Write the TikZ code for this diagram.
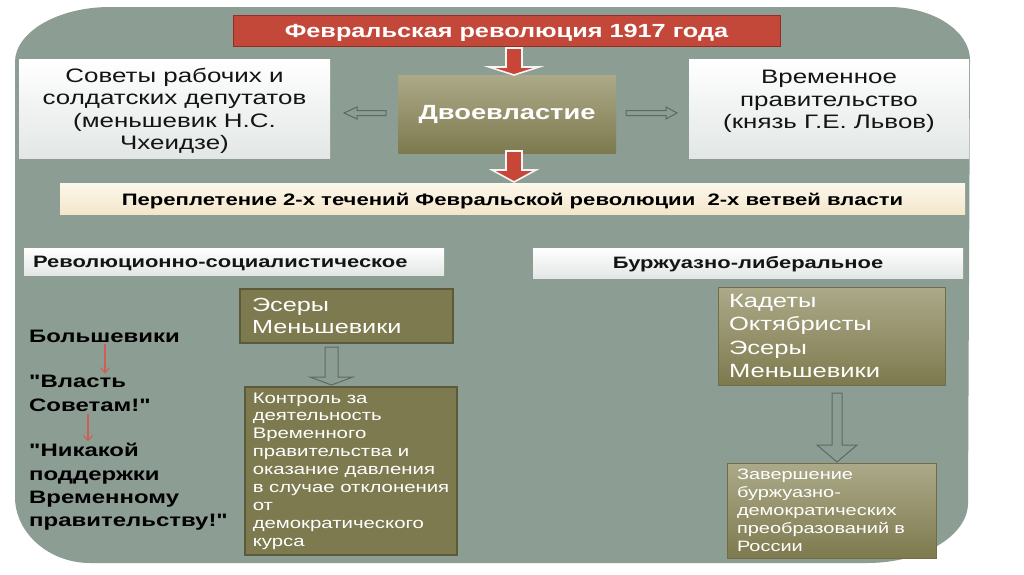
\documentclass[tikz,border=0pt]{standalone}
\usepackage{fontspec}
\setmainfont{Liberation Sans}
\newfontfamily\stf{Liberation Sans}[FakeStretch=1.33]
\usetikzlibrary{calc,arrows.meta}
\definecolor{bgc}{RGB}{140,157,148}
\definecolor{wbot}{RGB}{226,231,229}
\definecolor{oltop}{RGB}{172,169,137}
\definecolor{olbot}{RGB}{126,122,78}
\definecolor{oldark}{RGB}{125,122,79}
\definecolor{olbord}{RGB}{92,90,56}
\definecolor{titred}{RGB}{196,72,58}
\definecolor{titbord}{RGB}{150,45,35}
\definecolor{redarr}{RGB}{200,70,55}
\definecolor{creamtop}{RGB}{253,248,236}
\definecolor{creambot}{RGB}{243,230,202}
\definecolor{arrgrey}{RGB}{95,105,99}
\definecolor{thinred}{RGB}{205,95,85}
\newcommand\vblock[6]{\draw[#6] ($(#1)+(-#3,0)$) -- ($(#2)+(-#3,#5)$) -- ($(#2)+(-#4,#5)$) -- (#2) -- ($(#2)+(#4,#5)$) -- ($(#2)+(#3,#5)$) -- ($(#1)+(#3,0)$) -- cycle;}
\newcommand\hblock[6]{\draw[#6] ($(#1)+(0,-#3)$) -- ($(#2)+(#5,-#3)$) -- ($(#2)+(#5,-#4)$) -- (#2) -- ($(#2)+(#5,#4)$) -- ($(#2)+(#5,#3)$) -- ($(#1)+(0,#3)$) -- cycle;}
\newcommand\shiftup[2]{\raisebox{#1}[\height][\depth]{#2}}
\begin{document}
\begin{tikzpicture}[x=1pt,y=-1pt,
  box/.style={rectangle, inner sep=0pt, outer sep=0pt, anchor=center},
  whitebox/.style={box, top color=white, bottom color=wbot, text=black!92},
  olivegrad/.style={box, top color=oltop, bottom color=olbot, draw=olbot!90!black, line width=0.6pt, text=white},
  olivedark/.style={box, fill=oldark, draw=olbord, line width=1.3pt, text=white},
  hollow/.style={draw=arrgrey, line width=1pt, fill=bgc, line join=miter},
  redblock/.style={fill=redarr, draw=white!92!gray, line width=1.6pt, line join=miter},
  thinarr/.style={draw=thinred, line width=1.1pt, -{Straight Barb[length=5pt,width=9pt]}},
  lefttxt/.style={inner sep=0pt, anchor=west, align=left, text=black,
    font=\stf\bfseries\fontsize{18}{23.3}\selectfont}
]
\useasboundingbox (0,0) rectangle (1024,574);
\fill[white] (0,0) rectangle (1024,574);
% background panel
\fill[bgc] (15,62) .. controls (15,32) and (58,7) .. (110,7) -- (889,7)
  .. controls (933,7) and (970,31) .. (970,60) -- (968,503)
  .. controls (968,536) and (922,563) .. (867,563) -- (90,563)
  .. controls (49,563) and (15,533) .. (15,497) -- cycle;

% top row
\node[box, fill=titred, draw=titbord, line width=1pt, minimum width=547, minimum height=31,
  text=white, font=\stf\bfseries\fontsize{19}{21}\selectfont] (title) at (506.5,30.5)
  {\shiftup{-2pt}{Февральская революция 1917 года}};
\node[whitebox, minimum width=311, minimum height=99,
  font=\stf\fontsize{19.5}{22.5}\selectfont] (sov) at (174.5,108.5)
  {\shiftup{-3pt}{\begin{tabular}{@{}c@{}}Советы рабочих и\\солдатских депутатов\\(меньшевик Н.С.\\Чхеидзе)\end{tabular}}};
\node[olivegrad, draw=none, minimum width=218, minimum height=78,
  font=\stf\bfseries\fontsize{20.5}{24}\selectfont] (dvo) at (507,114) {Двоевластие};
\node[whitebox, minimum width=280, minimum height=99,
  font=\stf\fontsize{19.5}{22.5}\selectfont] (vrem) at (829,108.5)
  {\shiftup{7pt}{\begin{tabular}{@{}c@{}}Временное\\правительство\\(князь Г.Е. Львов)\end{tabular}}};

% banner
\node[box, top color=creamtop, bottom color=creambot, minimum width=905, minimum height=31,
  text=black, font=\stf\bfseries\fontsize{16.6}{19}\selectfont] (banner) at (512.5,198.5)
  {\shiftup{-3pt}{Переплетение 2-х течений Февральской революции\ \ 2-х ветвей власти}};

% branch labels
\node[whitebox, minimum width=420, minimum height=27, text width=402, inner xsep=9pt, align=left,
  font=\stf\bfseries\fontsize{16.5}{18}\selectfont] (rs) at (234,261.5)
  {\shiftup{-2pt}{Революционно-социалистическое}};
\node[whitebox, minimum width=430, minimum height=30, align=center,
  font=\stf\bfseries\fontsize{16.5}{18}\selectfont] (bl) at (748,263)
  {\shiftup{-1pt}{Буржуазно-либеральное}};

% left column
\node[olivedark, minimum width=213, minimum height=54, text width=189, inner xsep=12pt, align=left,
  font=\stf\fontsize{19}{22}\selectfont] (es) at (346.5,316) {Эсеры\\Меньшевики};
\node[olivedark, minimum width=212, minimum height=168, align=left,
  font=\stf\fontsize{15.3}{17.9}\selectfont] (kontr) at (351,471)
  {Контроль за\\деятельность\\Временного\\правительства и\\оказание давления\\в случае отклонения\\от\\демократического\\курса};

\node[lefttxt] (bol) at (29,336) {Большевики};
\node[lefttxt] (vlast) at (29,393.5) {"Власть\\Советам!"};
\node[lefttxt] (nik) at (29,487) {"Никакой\\поддержки\\Временному\\правительству!"};

% right column
\node[olivegrad, minimum width=227, minimum height=98, text width=205, inner xsep=11pt, align=left,
  font=\stf\fontsize{19.2}{23.3}\selectfont] (kad) at (831.5,336)
  {Кадеты\\Октябристы\\Эсеры\\Меньшевики};
\node[olivegrad, minimum width=209, minimum height=95, text width=189, inner xsep=10pt, align=left,
  font=\stf\fontsize{15}{18}\selectfont] (zav) at (831.5,510.5)
  {Завершение\\буржуазно-\\демократических\\преобразований в\\России};

% arrow anchor points
\coordinate (ra1s) at ($(title.south)+(7.5,2)$);
\coordinate (ra1t) at ($(dvo.north)+(7,0)$);
\coordinate (ra2s) at ($(dvo.south)+(7,-2)$);
\coordinate (ra2t) at ($(banner.north)+(1.5,-1)$);
\coordinate (hl1s) at ($(dvo.west)+(-12,-1)$);
\coordinate (hl1t) at ($(sov.east)+(14,4.5)$);
\coordinate (hr1s) at ($(dvo.east)+(10,-1)$);
\coordinate (hr1t) at ($(vrem.west)+(-12,4.5)$);
\coordinate (hd1s) at ($(es.south)+(-15,4)$);
\coordinate (hd1t) at ($(kontr.north)+(-19.5,-2)$);
\coordinate (hd2s) at ($(kad.south)+(5.5,8)$);
\coordinate (hd2t) at ($(zav.north)+(5.5,-1)$);

% block arrows
\vblock{ra1s}{ra1t}{8}{25}{-8}{redblock}
\vblock{ra2s}{ra2t}{8}{22}{-12}{redblock}
\hblock{hl1s}{hl1t}{2.5}{6}{13}{hollow}
\hblock{hr1s}{hr1t}{2.5}{6}{-11}{hollow}
\vblock{hd1s}{hd1t}{6.5}{21.5}{-8}{hollow}
\vblock{hd2s}{hd2t}{5}{20}{-17}{hollow}

% thin red arrows
\draw[thinarr] ($(bol.south west)+(76,2)$) -- ($(vlast.north west)+(76,-2)$);
\draw[thinarr] ($(vlast.south west)+(59,2)$) -- ($(nik.north west)+(59,-2)$);
\end{tikzpicture}
\end{document}
